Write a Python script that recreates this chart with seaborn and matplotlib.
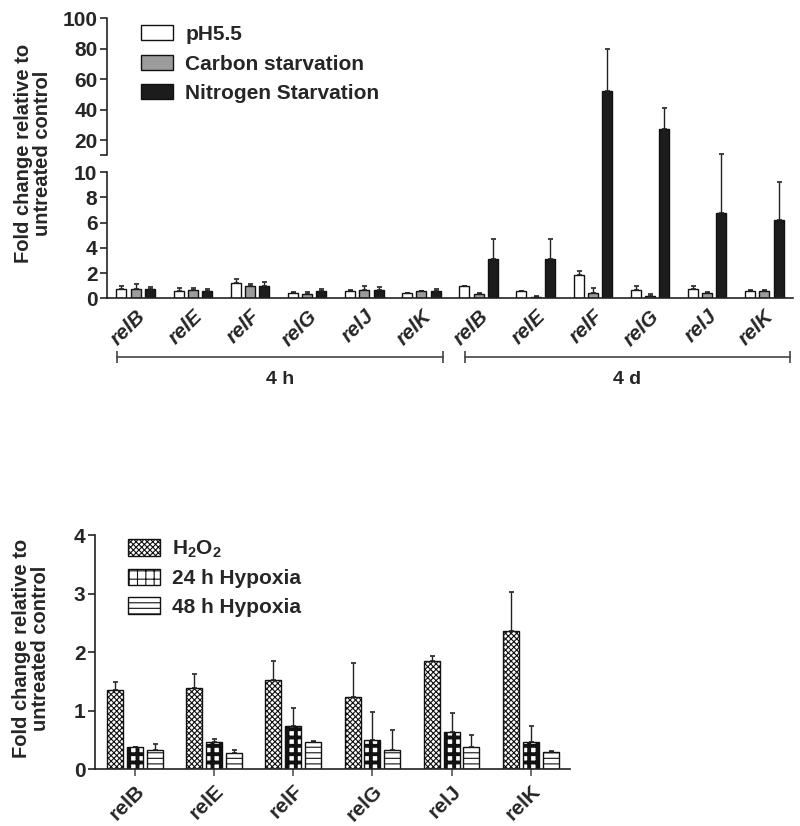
import numpy as np
import pandas as pd
import seaborn as sns
import matplotlib.pyplot as plt

# ---- data ----
genes = ["relB", "relE", "relF", "relG", "relJ", "relK"]
times = ["4 h", "4 d"]
stress_top = ["pH5.5", "Carbon starvation", "Nitrogen Starvation"]

# 4 h
ph55_4h = [0.70, 0.60, 1.20, 0.40, 0.55, 0.40]
ph55_4h_err = [0.25, 0.20, 0.30, 0.10, 0.10, 0.05]
carbon_4h = [0.75, 0.65, 0.95, 0.35, 0.65, 0.55]
carbon_4h_err = [0.35, 0.15, 0.15, 0.15, 0.35, 0.05]
nitrogen_4h = [0.70, 0.60, 0.95, 0.55, 0.65, 0.55]
nitrogen_4h_err = [0.20, 0.15, 0.35, 0.15, 0.20, 0.20]
# 4 d
ph55_4d = [0.95, 0.55, 1.85, 0.67, 0.70, 0.60]
ph55_4d_err = [0.02, 0.05, 0.30, 0.33, 0.25, 0.02]
carbon_4d = [0.30, 0.12, 0.45, 0.18, 0.38, 0.60]
carbon_4d_err = [0.15, 0.03, 0.35, 0.17, 0.12, 0.02]
nitrogen_4d = [3.1, 3.1, 52.0, 27.0, 6.75, 6.2]
nitrogen_4d_err = [1.6, 1.6, 28.0, 14.0, 3.95, 3.0]

stress_bottom = ["H$_2$O$_2$", "24 h Hypoxia", "48 h Hypoxia"]
h2o2 = [1.35, 1.38, 1.53, 1.23, 1.85, 2.36]
h2o2_err = [0.14, 0.24, 0.32, 0.59, 0.08, 0.67]
hyp24 = [0.37, 0.46, 0.74, 0.50, 0.64, 0.47]
hyp24_err = [0.01, 0.06, 0.30, 0.47, 0.32, 0.26]
hyp48 = [0.33, 0.27, 0.47, 0.33, 0.38, 0.29]
hyp48_err = [0.09, 0.06, 0.01, 0.34, 0.21, 0.01]

# ---- long tables ----
keys = [t + " " + g for t in times for g in genes]
top_vals = {
    "pH5.5": (ph55_4h + ph55_4d, ph55_4h_err + ph55_4d_err),
    "Carbon starvation": (carbon_4h + carbon_4d, carbon_4h_err + carbon_4d_err),
    "Nitrogen Starvation": (nitrogen_4h + nitrogen_4d, nitrogen_4h_err + nitrogen_4d_err),
}
rows = []
for s in stress_top:
    v, e = top_vals[s]
    for k, vi, ei in zip(keys, v, e):
        rows.append({"key": k, "stress": s, "value": vi, "err": ei})
top = pd.DataFrame(rows)

bot_vals = {stress_bottom[0]: (h2o2, h2o2_err),
            stress_bottom[1]: (hyp24, hyp24_err),
            stress_bottom[2]: (hyp48, hyp48_err)}
rows = []
for s in stress_bottom:
    v, e = bot_vals[s]
    for g, vi, ei in zip(genes, v, e):
        rows.append({"gene": g, "stress": s, "value": vi, "err": ei})
bot = pd.DataFrame(rows)

sns.set_style("ticks")
plt.rcParams["font.family"] = ["Liberation Sans", "DejaVu Sans"]
plt.rcParams["font.weight"] = "bold"
plt.rcParams["mathtext.default"] = "regular"
plt.rcParams["hatch.linewidth"] = 0.8
FS = 15


# broken y axis: 0-10 linear, gap, then 10-100 compressed
def fwd(y):
    y = np.asarray(y, dtype=float)
    return np.where(y <= 10, y, 11.35 + (y - 10) * 0.121)


def inv(u):
    u = np.asarray(u, dtype=float)
    return np.where(u <= 10, u, np.where(u < 11.35, 10.0, 10 + (u - 11.35) / 0.121))


def add_errors(ax, df, hue_order, cat_col, cat_order):
    for cont, s in zip(ax.containers, hue_order):
        errs = df[df.stress == s].set_index(cat_col).loc[cat_order, "err"].values
        for bar, e in zip(cont, errs):
            x = bar.get_x() + bar.get_width() / 2
            h = bar.get_height()
            ax.errorbar(x, h, yerr=[[0], [e]], fmt="none", ecolor="#222222",
                        elinewidth=1, capsize=1.8, capthick=1.2, zorder=1)


fig = plt.figure(figsize=(8, 8.26), dpi=100)

# ---------------- top panel ----------------
ax1 = fig.add_axes([0.134, 0.639, 0.857, 0.339])
sns.barplot(data=top, x="key", y="value", hue="stress", order=keys,
            hue_order=stress_top, palette=["white", "#9c9c9c", "#1c1c1c"],
            edgecolor="#111111", linewidth=1, width=0.75, gap=0.3,
            errorbar=None, legend=False, ax=ax1)
add_errors(ax1, top, stress_top, "key", keys)
ax1.set_yscale("function", functions=(fwd, inv))
ax1.set_ylim(0, 100)
ax1.set_xlim(-0.5, len(keys) - 0.5)
ax1.set_yticks([0, 2, 4, 6, 8, 10, 20, 40, 60, 80, 100])
ax1.set_yticklabels(["0", "2", "4", "6", "8", "10", "20", "40", "60", "80", "100"],
                    fontsize=FS, fontweight="bold")
ax1.yaxis.set_minor_locator(plt.NullLocator())
ax1.set_xticks(range(len(keys)))
ax1.set_xticklabels(genes + genes, rotation=45, ha="right", rotation_mode="anchor",
                    fontsize=FS, fontstyle="italic", fontweight="bold")
ax1.tick_params(axis="x", length=0, pad=6)
ax1.tick_params(axis="y", length=5, width=1.2, pad=2)
ax1.set_xlabel("")
ax1.set_ylabel("")
sns.despine(ax=ax1)
ax1.spines["left"].set_bounds(0, 10)
for sp in ["left", "bottom"]:
    ax1.spines[sp].set_linewidth(1.2)
    ax1.spines[sp].set_color("#222222")
ytr = ax1.get_yaxis_transform()
ax1.plot([0, 0], [10.01, 100], transform=ytr, color="#222222", lw=1.2, clip_on=False)
ax1.plot([0], [10.01], transform=ytr, marker=0, ms=5, mew=1.2, color="#222222", clip_on=False)

ax1.legend(handles=ax1.containers, labels=stress_top, loc="upper left",
           bbox_to_anchor=(0.05, 0.975), frameon=False, fontsize=FS,
           handlelength=1.5, handleheight=0.72, handletextpad=0.6,
           labelspacing=0.5, borderpad=0, borderaxespad=0)

# time-point brackets
xtr = ax1.get_xaxis_transform()
for t, (x0, x1) in zip(times, [(-0.33, 5.38), (5.76, 11.45)]):
    ax1.plot([x0, x1], [-0.211, -0.211], transform=xtr, color="#444444", lw=1.2,
             marker="|", ms=9, mew=1.2, clip_on=False)
    ax1.text((x0 + x1) / 2, -0.29, t, transform=xtr, ha="center", va="center",
             fontsize=14, fontweight="bold")

fig.text(33 / 800, 1 - 153 / 826, "Fold change relative to\nuntreated control",
         rotation=90, ha="center", va="center", multialignment="center",
         fontsize=14.5, fontweight="bold", linespacing=1.05)

# ---------------- bottom panel ----------------
ax2 = fig.add_axes([0.119, 0.069, 0.594, 0.283])
sns.barplot(data=bot, x="gene", y="value", hue="stress", order=genes,
            hue_order=stress_bottom, palette=["white", "white", "white"],
            edgecolor="#111111", linewidth=1, width=0.75, gap=0.2,
            errorbar=None, legend=False, ax=ax2)
for cont, hatch, hlw in zip(ax2.containers, ["xxxxxx", "++", "---"], [0.8, 2.8, 0.8]):
    for bar in cont:
        bar.set_hatch(hatch)
        if hasattr(bar, "set_hatch_linewidth"):
            bar.set_hatch_linewidth(hlw)
add_errors(ax2, bot, stress_bottom, "gene", genes)
ax2.set_ylim(0, 4)
ax2.set_xlim(-0.5, len(genes) - 0.5)
ax2.set_yticks([0, 1, 2, 3, 4])
ax2.set_yticklabels(["0", "1", "2", "3", "4"], fontsize=FS, fontweight="bold")
ax2.set_xticks(range(len(genes)))
ax2.set_xticklabels(genes, rotation=45, ha="right", rotation_mode="anchor",
                    fontsize=FS, fontweight="bold")
ax2.tick_params(axis="x", length=5, width=1.2, pad=4, color="#555555")
ax2.tick_params(axis="y", length=5, width=1.2, pad=2)
ax2.set_xlabel("")
ax2.set_ylabel("")
sns.despine(ax=ax2)
for sp in ["left", "bottom"]:
    ax2.spines[sp].set_linewidth(1.2)
    ax2.spines[sp].set_color("#222222")

ax2.legend(handles=ax2.containers, labels=stress_bottom, loc="upper left",
           bbox_to_anchor=(0.07, 0.985), frameon=False, fontsize=FS,
           handlelength=1.5, handleheight=0.85, handletextpad=0.6,
           labelspacing=0.42, borderpad=0, borderaxespad=0)

fig.text(31 / 800, 1 - 648 / 826, "Fold change relative to\nuntreated control",
         rotation=90, ha="center", va="center", multialignment="center",
         fontsize=14.5, fontweight="bold", linespacing=1.05)

fig.savefig("out.png", dpi=100)
